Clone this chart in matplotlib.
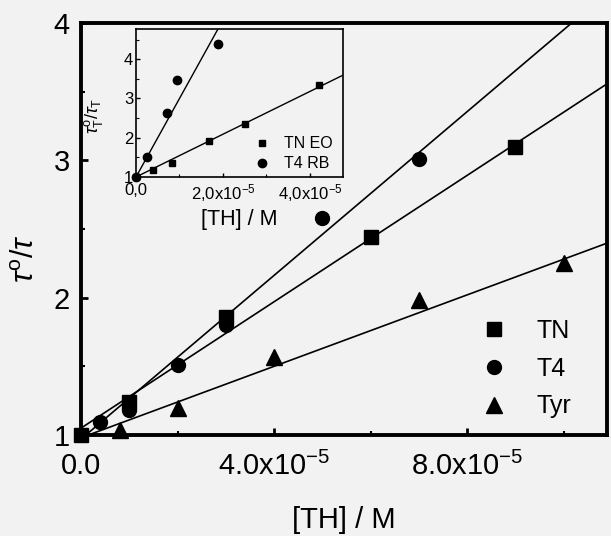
import numpy as np
import matplotlib
matplotlib.use("Agg")
import matplotlib.pyplot as plt
from matplotlib.ticker import MultipleLocator, FixedLocator, FixedFormatter
from matplotlib.lines import Line2D

plt.rcParams['font.family'] = ['Liberation Sans', 'DejaVu Sans']
plt.rcParams['mathtext.fontset'] = 'custom'
plt.rcParams['mathtext.rm'] = 'Liberation Sans'
plt.rcParams['mathtext.it'] = 'Liberation Sans:italic'
plt.rcParams['mathtext.bf'] = 'Liberation Sans:bold'

# ── MAIN PLOT DATA ────────────────────────────────────────
tn_x  = [0.0, 1.0e-5, 3.0e-5, 6.0e-5, 9.0e-5]
tn_y  = [1.0, 1.24, 1.86, 2.445, 3.10]
t4_x  = [0.4e-5, 1.0e-5, 2.0e-5, 3.0e-5, 5.0e-5, 7.0e-5]
t4_y  = [1.095, 1.18, 1.51, 1.80, 2.58, 3.01]
tyr_x = [0.8e-5, 2.0e-5, 4.0e-5, 7.0e-5, 10.0e-5]
tyr_y = [1.04, 1.20, 1.57, 1.985, 2.25]

# fitted lines (intercept, slope per M)
fit_icpt  = [0.97, 1.05, 0.98]
fit_slope = [2.98e4, 2.30e4, 1.30e4]

x_ticks  = [0.0, 4.0e-5, 8.0e-5]
x_labels = ['0.0', r'4.0x10$^{-5}$', r'8.0x10$^{-5}$']
y_ticks  = [1, 2, 3, 4]

# ── INSET DATA ────────────────────────────────────────────
eo_x = [0.0, 0.40e-5, 0.82e-5, 1.69e-5, 2.51e-5, 4.21e-5]
eo_y = [1.0, 1.18, 1.35, 1.92, 2.34, 3.34]
rb_x = [0.0, 0.26e-5, 0.72e-5, 0.94e-5, 1.89e-5]
rb_y = [1.0, 1.52, 2.62, 3.47, 4.40]
ins_icpt  = [1.0, 1.0]
ins_slope = [2.0e5, 5.45e4]
ins_xticks  = [0.0, 2.0e-5, 4.0e-5]
ins_xlabels = ['0,0', r'2,0x10$^{-5}$', r'4,0x10$^{-5}$']

BG = '#f2f2f2'
fig = plt.figure(figsize=(6.11, 5.36), dpi=100, facecolor=BG)
ax = fig.add_axes([81/611, 1-435/536, 526/611, 412/536], facecolor=BG)

XMAX = 1.09e-4
xs = np.array([0.0, XMAX])
for b, m in zip(fit_icpt, fit_slope):
    ax.plot(xs, b + m*xs, color='black', lw=1.2, zorder=2)

ax.plot(tn_x, tn_y, 's', color='black', ms=10, clip_on=False, zorder=3)
ax.plot(t4_x, t4_y, 'o', color='black', ms=10, clip_on=False, zorder=3)
ax.plot(tyr_x, tyr_y, '^', color='black', ms=11, clip_on=False, zorder=3)

ax.set_xlim(0, XMAX)
ax.set_ylim(1, 4)
ax.xaxis.set_major_locator(FixedLocator(x_ticks))
ax.xaxis.set_major_formatter(FixedFormatter(x_labels))
ax.xaxis.set_minor_locator(MultipleLocator(2e-5))
ax.yaxis.set_major_locator(FixedLocator(y_ticks))
ax.yaxis.set_minor_locator(MultipleLocator(0.5))
ax.tick_params(which='major', direction='in', length=5, width=2, labelsize=21)
ax.tick_params(axis='x', which='major', pad=12)
ax.tick_params(axis='y', which='major', pad=8)
ax.tick_params(which='minor', direction='in', length=3, width=1.5)
for s in ax.spines.values():
    s.set_linewidth(2.8)

ax.set_xlabel('[TH] / M', fontsize=21, labelpad=18)
fig.text(26/611, 1-259/536, r'$\tau^{\rm o}/\tau$', rotation=90, fontsize=22,
         ha='center', va='center')

handles = [Line2D([], [], ls='', marker='s', color='black', ms=10),
           Line2D([], [], ls='', marker='o', color='black', ms=10),
           Line2D([], [], ls='', marker='^', color='black', ms=11)]
ax.legend(handles, ['TN', 'T4', 'Tyr'], loc='upper left',
          bbox_to_anchor=(0.762, 0.282), frameon=False, fontsize=18,
          handlelength=1.0, handletextpad=1.2, labelspacing=0.55,
          borderpad=0, borderaxespad=0, numpoints=1)

# ── INSET ─────────────────────────────────────────────────
ins = fig.add_axes([136/611, 1-177/536, 207/611, 148/536], facecolor=BG)
IXMAX = 4.76e-5
ixs = np.array([0.0, IXMAX])
for b, m in zip(ins_icpt, ins_slope):
    ins.plot(ixs, b + m*ixs, color='black', lw=1.0)
ins.plot(eo_x, eo_y, 's', color='black', ms=5, clip_on=False, zorder=3)
ins.plot(rb_x, rb_y, 'o', color='black', ms=6, clip_on=False, zorder=3)
ins.set_xlim(0, IXMAX)
ins.set_ylim(1, 4.77)
ins.xaxis.set_major_locator(FixedLocator(ins_xticks))
ins.xaxis.set_major_formatter(FixedFormatter(ins_xlabels))
ins.xaxis.set_minor_locator(MultipleLocator(1e-5))
ins.yaxis.set_major_locator(FixedLocator([1, 2, 3, 4]))
ins.yaxis.set_minor_locator(MultipleLocator(0.5))
ins.tick_params(which='major', direction='in', length=3, width=1, labelsize=12, pad=2)
ins.tick_params(axis='x', which='major', pad=4)
ins.tick_params(which='minor', direction='in', length=2, width=0.8)
for s in ins.spines.values():
    s.set_linewidth(1.2)
ins.set_xlabel('[TH] / M', fontsize=15.5, labelpad=3)
ins.set_ylabel(r'$\tau^{\rm o}_{\rm T}/\tau_{\rm T}$', fontsize=13)
ins.yaxis.set_label_coords(-0.15, 0.41)

ins_handles = [Line2D([], [], ls='', marker='s', color='black', ms=5),
               Line2D([], [], ls='', marker='o', color='black', ms=6)]
ins.legend(ins_handles, ['TN EO', 'T4 RB'], loc='upper left',
           bbox_to_anchor=(0.578, 0.275), frameon=False, fontsize=11.5,
           handlelength=0.8, handletextpad=1.0, labelspacing=0.3,
           borderpad=0, borderaxespad=0, numpoints=1)

fig.savefig('out.png', dpi=100, facecolor=BG)
